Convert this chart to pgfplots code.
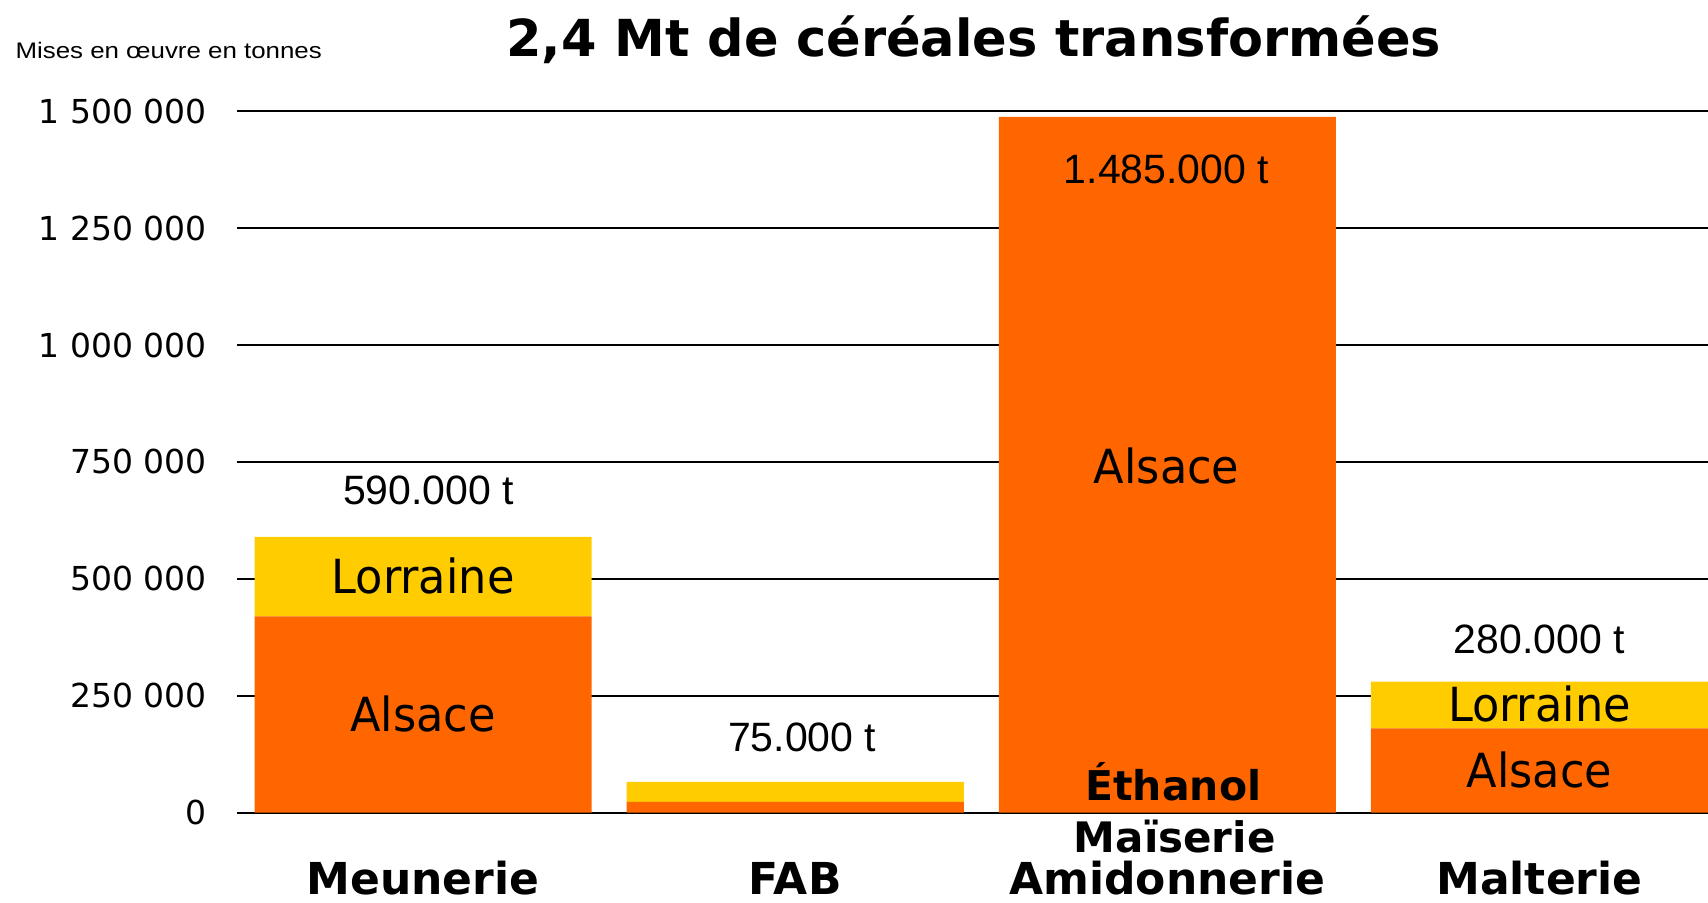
\documentclass[border=0pt]{standalone}
\usepackage{fontspec}
\usepackage{graphicx}
\usepackage{pgfplots}
\pgfplotsset{compat=1.18}
\setmainfont{DejaVu Sans}
\newfontfamily\arial{Liberation Sans}
\definecolor{alsace}{HTML}{FF6600}
\definecolor{lorraine}{HTML}{FFCC00}
\tikzset{
  total/.style={font=\arial\fontsize{20.5}{24}\selectfont, anchor=base, inner sep=0pt},
  region/.style={font=\fontsize{23.5}{27}\selectfont, anchor=base, inner sep=0pt, xscale=0.95},
}
\pgfplotsset{
  frame/.style={width=735.5pt, height=350.7pt, scale only axis,
    xmin=-0.5, xmax=3.453, ymin=0, ymax=1500000,
    enlargelimits=false, clip=false},
}

\begin{document}
\begin{tikzpicture}
\begin{axis}[
  frame,
  ybar stacked, bar width=0.906,
  axis line style={draw=none},
  major tick length=0pt,
  ymajorgrids, major grid style={black, line width=1pt},
  ytick={0,250000,500000,750000,1000000,1250000,1500000},
  yticklabels={0,250 000,500 000,750 000,1 000 000,1 250 000,1 500 000},
  scaled y ticks=false,
  yticklabel style={font=\fontsize{16.5}{19}\selectfont, anchor=east, inner sep=0pt, xshift=-15pt},
  xtick={0,1,2,3},
  xticklabels={Meunerie,FAB,Amidonnerie,Malterie},
  xticklabel style={font=\bfseries\fontsize{22}{26}\selectfont, anchor=base, inner sep=0pt, yshift=-41.15pt},
]
% Alsace
\addplot[fill=alsace, draw=none] coordinates {(0,420000) (1,23000) (2,1488000) (3,180000)};
% Lorraine
\addplot[fill=lorraine, draw=none] coordinates {(0,170000) (1,43000) (2,0) (3,100000)};
\coordinate (bbl) at (axis cs:-1.137,-192500);
\coordinate (btr) at (axis cs:3.453,1738000);
\end{axis}

% labels on top of the bars
\begin{axis}[frame, hide axis]
\node[total] at (axis cs:0.015,658000) {590.000 t};
\node[total] at (axis cs:1.019,130500) {75.000 t};
\node[total] at (axis cs:1.998,1346000) {1.485.000 t};
\node[total] at (axis cs:3.0,341000) {280.000 t};

\node[region] at (axis cs:0,468000) {Lorraine};
\node[region] at (axis cs:0,172600) {Alsace};
\node[region] at (axis cs:1.998,703600) {Alsace};
\node[region] at (axis cs:3.0,194600) {Lorraine};
\node[region] at (axis cs:3.0,52800) {Alsace};

\node[font=\bfseries\fontsize{20.5}{24}\selectfont, anchor=base, inner sep=0pt] at (axis cs:2.016,26000) {Éthanol};
\node[font=\bfseries\fontsize{21}{24}\selectfont, anchor=base, inner sep=0pt] at (axis cs:2.02,-86200) {Maïserie};

\node[font=\bfseries\fontsize{25.5}{30}\selectfont, anchor=base, inner sep=0pt] at (axis cs:1.48,1618000) {2,4 Mt de céréales transformées};
\node[font=\arial\fontsize{11.25}{13}\selectfont, anchor=base west, inner sep=0pt, xscale=1.15] at (axis cs:-1.0965,1613000) {Mises en œuvre en tonnes};
\end{axis}
\pgfresetboundingbox
\path[use as bounding box] (bbl) rectangle (btr);
\end{tikzpicture}
\end{document}
